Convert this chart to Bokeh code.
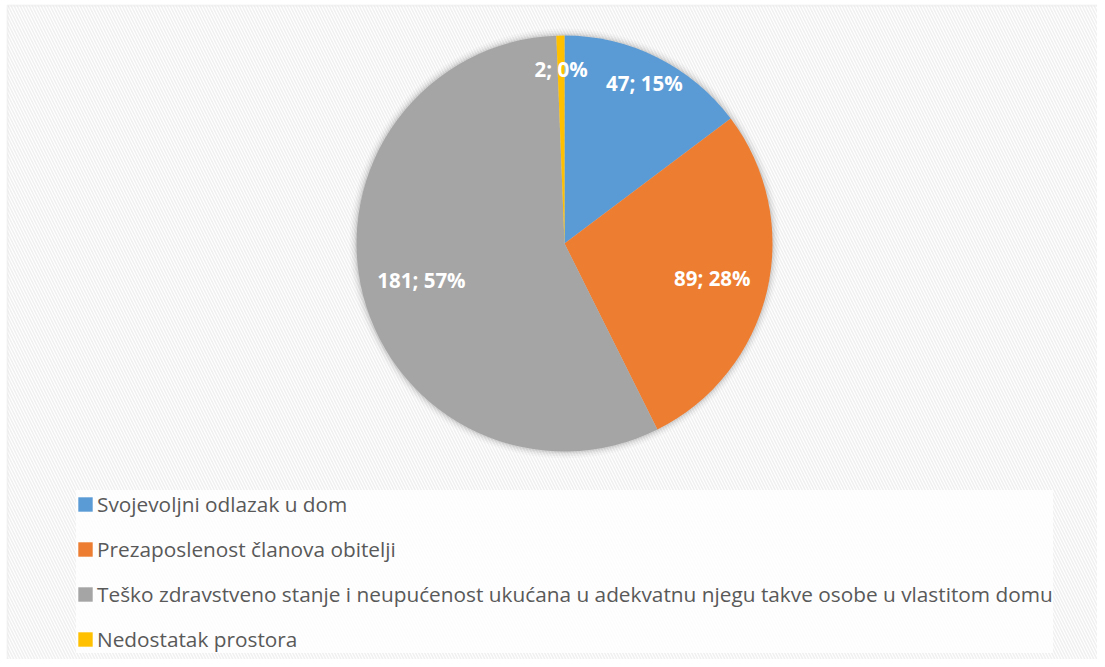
import math
from bokeh.plotting import figure
from bokeh.models import Range1d, Legend, LegendItem, BoxAnnotation, ColumnDataSource
from bokeh.core.properties import value
from bokeh.embed import file_html
from bokeh.resources import INLINE

# ---- data ----
categories = [
    "Svojevoljni odlazak u dom",
    "Prezaposlenost članova obitelji",
    "Teško zdravstveno stanje i neupućenost ukućana u adekvatnu njegu takve osobe u vlastitom domu",
    "Nedostatak prostora",
]
counts = [47, 89, 181, 2]
percents = [15, 28, 57, 0]
colors = ["#5B9BD5", "#ED7D31", "#A5A5A5", "#FFC000"]

# ---- layout constants (screen pixels) ----
W, H = 1097, 659
CX, CY = 564, H - 243        # pie centre (x = picture x, y = H - picture y)
R = 208
label_r = [0.86, 0.73, 0.71, 0.84]

total = sum(counts)
fracs = [c / total for c in counts]
starts, ends, mids = [], [], []
acc = 0.0
for f in fracs:
    starts.append(math.pi / 2 - acc * 2 * math.pi)
    ends.append(math.pi / 2 - (acc + f) * 2 * math.pi)
    mids.append(math.pi / 2 - (acc + f / 2) * 2 * math.pi)
    acc += f

labels = [f"{c}; {pc}%" for c, pc in zip(counts, percents)]
lx = [CX + R * k * math.cos(a) for k, a in zip(label_r, mids)]
ly = [CY + R * k * math.sin(a) for k, a in zip(label_r, mids)]

src = ColumnDataSource(dict(cat=categories, start=starts, end=ends, color=colors,
                            x=[CX] * 4, y=[CY] * 4))
lsrc = ColumnDataSource(dict(x=lx, y=ly, text=labels))

p = figure(width=W, height=H, output_backend="svg", toolbar_location=None,
           x_range=Range1d(0, W), y_range=Range1d(0, H),
           min_border=0)
p.axis.visible = False
p.xgrid.visible = False
p.ygrid.visible = False
p.background_fill_color = "white"
p.border_fill_color = "white"
p.outline_line_color = None

# chart area: hatched background with a light border
p.add_layout(BoxAnnotation(left=7, right=W + 20, top=H - 5, bottom=-20,
                           fill_color="white", fill_alpha=1.0,
                           line_color="#d9d9d9", line_width=2,
                           hatch_pattern="\\", hatch_color="#f0f0f0",
                           hatch_scale=6, hatch_weight=1.6, level="underlay"))

# soft shadow around the pie
for extra, a in [(7, 0.02), (5, 0.03), (3, 0.045), (1.5, 0.06)]:
    p.circle(x=[CX], y=[CY], radius=R + extra, radius_units="screen",
             fill_color="black", fill_alpha=a, line_color=None)

wr = p.wedge(x="x", y="y", radius=R, radius_units="screen",
             start_angle="start", end_angle="end", direction="clock",
             fill_color="color", line_color=None, source=src)

p.text(x="x", y="y", text="text", source=lsrc, text_align="center",
       text_baseline="middle", text_color="white", text_font_style="bold",
       text_font=value("Open Sans"), text_font_size="20.5px")

legend = Legend(
    items=[LegendItem(label=c, renderers=[wr], index=i) for i, c in enumerate(categories)],
    location=(76, 6),
    orientation="vertical",
    border_line_color=None,
    background_fill_color="white",
    background_fill_alpha=0.8,
    padding=8,
    spacing=17,
    margin=0,
    label_height=28,
    glyph_height=18,
    glyph_width=18,
    label_standoff=3,
    label_text_font="Open Sans",
    label_text_font_size="20.8px",
    label_text_color="#595959",
    label_text_baseline="middle",
)
p.add_layout(legend, "center")

open("out.html", "w").write(file_html(p, INLINE))
